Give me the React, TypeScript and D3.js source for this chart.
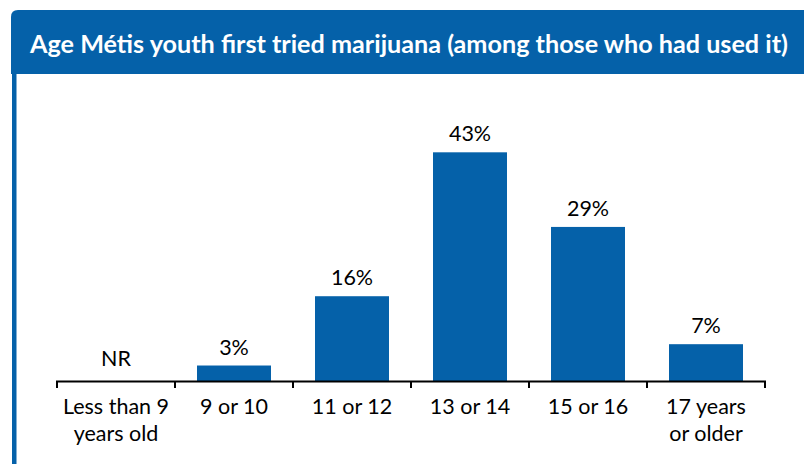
import React from "react";
import * as d3 from "d3";

const categories: string[][] = [
  ["Less than 9", "years old"],
  ["9 or 10"],
  ["11 or 12"],
  ["13 or 14"],
  ["15 or 16"],
  ["17 years", "or older"],
];
const values: (number | null)[] = [null, 3, 16, 43, 29, 7];
const valueLabels: string[] = ["NR", "3%", "16%", "43%", "29%", "7%"];
const title = "Age Métis youth first tried marijuana (among those who had used it)";

const W = 804;
const H = 464;
const BLUE = "#0561a9";
const FONT = "Lato, 'Open Sans', sans-serif";

export default function App() {
  const keys = categories.map((c) => c.join(" "));
  const x = d3
    .scaleBand<string>()
    .domain(keys)
    .range([57, 765])
    .paddingInner(0.373)
    .paddingOuter(0.1865);
  const y = d3.scaleLinear().domain([0, 50]).range([381.5, 115]);
  const step = x.step();
  const boundaries = d3.range(keys.length + 1).map((i) => 57 + i * step);

  return (
    <svg
      width={W}
      height={H}
      style={{ position: "absolute", left: 0, top: 0, background: "#fff" }}
    >
      {/* header */}
      <path
        d={`M11,74 L11,17 Q11,10 18,10 L${W},10 L${W},74 Z`}
        fill={BLUE}
      />
      <rect x={12} y={74} width={4.5} height={H - 74} fill={BLUE} />
      <text
        x={30}
        y={52.5}
        fill="#fff"
        fontFamily={FONT}
        fontWeight={700}
        fontSize={25.2}
      >
        {title}
      </text>

      {/* bars */}
      {values.map((v, i) =>
        v == null ? null : (
          <rect
            key={keys[i]}
            x={x(keys[i])!}
            y={y(v)}
            width={x.bandwidth()}
            height={y(0) - y(v)}
            fill={BLUE}
          />
        )
      )}
      {/* value labels */}
      {values.map((v, i) => (
        <text
          key={"l" + i}
          x={x(keys[i])! + x.bandwidth() / 2}
          y={v == null ? y(0) - 15.5 : y(v) - 11}
          textAnchor="middle"
          fontFamily={FONT}
          fontSize={21.5}
          fill="#000"
        >
          {valueLabels[i]}
        </text>
      ))}

      {/* axis */}
      <line x1={56} x2={766} y1={y(0)} y2={y(0)} stroke="#000" strokeWidth={2} />
      {boundaries.map((b, i) => (
        <line
          key={"t" + i}
          x1={b}
          x2={b}
          y1={y(0)}
          y2={y(0) + 6.5}
          stroke="#000"
          strokeWidth={2}
        />
      ))}
      {categories.map((lines, i) => (
        <text
          key={"c" + i}
          textAnchor="middle"
          fontFamily={FONT}
          fontSize={21.5}
          fill="#000"
        >
          {lines.map((ln, j) => (
            <tspan key={j} x={x(keys[i])! + x.bandwidth() / 2} y={413.5 + j * 27}>
              {ln}
            </tspan>
          ))}
        </text>
      ))}
    </svg>
  );
}
